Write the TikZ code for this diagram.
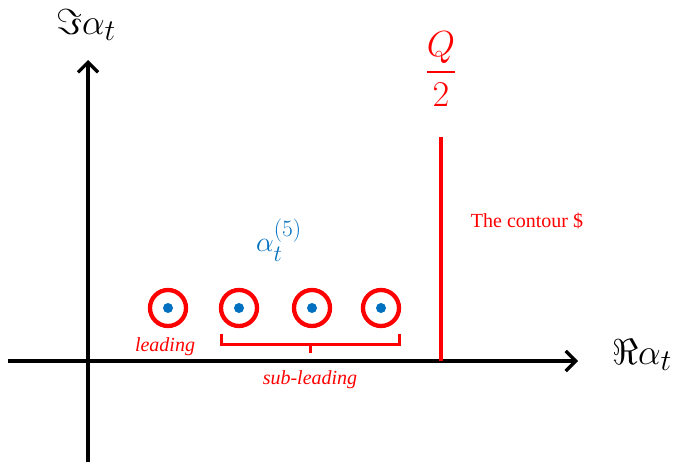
\documentclass[tikz,border=0pt]{standalone}
\usepackage{amssymb}
\usepackage{fontspec}
\setmainfont{Liberation Serif}
\usetikzlibrary{arrows.meta}
\definecolor{myred}{RGB}{255,0,0}
\definecolor{myblue}{RGB}{0,112,192}
\tikzset{
  axis/.style={line width=3.5pt, -{Straight Barb[length=10pt,width=20pt,line width=3.2pt]}},
  ring/.style={circle, draw=myred, line width=4.3pt, minimum size=36pt, inner sep=0pt},
  dot/.style={circle, fill=myblue, minimum size=10pt, inner sep=0pt},
  redlbl/.style={text=myred, font=\fontsize{20}{22}\selectfont\itshape},
  bigmath/.style={font=\fontsize{24.88}{28}\selectfont, inner sep=0pt},
}
\begin{document}
\begin{tikzpicture}[x=1pt,y=-1pt]
\useasboundingbox (0,0) rectangle (677,468);
% axes
\coordinate (xs) at (8,361);
\coordinate (xe) at (578,361);
\coordinate (ys) at (88,462);
\coordinate (ye) at (88,60);
\draw[axis] (xs) -- (xe);
\draw[axis] (ys) -- (ye);
\node[bigmath, scale=1.45] (ylab) at (86,25) {$\Im\alpha_t$};
\node[bigmath, scale=1.45] (xlab) at (642,355) {$\Re\alpha_t$};
% contour
\coordinate (cTop) at (441,137);
\coordinate (cBot) at (441,361);
\draw[myred, line width=3.5pt] (cTop) -- (cBot);
\node[bigmath, scale=1.46, text=myred] (q2) at (441,69) {$\displaystyle\frac{Q}{2}$};
\node[text=myred, font=\fontsize{20}{22}\selectfont] (ctext) at (527,221) {The contour \$};
% poles
\foreach \i/\x in {1/168,2/239,3/312,4/381}{
  \node[ring] (r\i) at (\x,308) {};
  \node[dot] (d\i) at (\x,308) {};
}
\node[bigmath, scale=1.13, text=myblue] (alab) at (279,240) {$\alpha_t^{(5)}$};
% bracket
\coordinate (b1) at (221,334);
\coordinate (b2) at (221,344);
\coordinate (b3) at (399,344);
\coordinate (b4) at (399,334);
\coordinate (bm) at (310,344);
\coordinate (bt) at (310,353);
\draw[myred, line width=3pt] (b1) -- (b2) -- (b3) -- (b4);
\draw[myred, line width=3pt] (bm) -- (bt);
\node[redlbl] (lead) at (165,347) {leading};
\node[redlbl] (sub) at (310,380) {sub-leading};
\end{tikzpicture}
\end{document}
